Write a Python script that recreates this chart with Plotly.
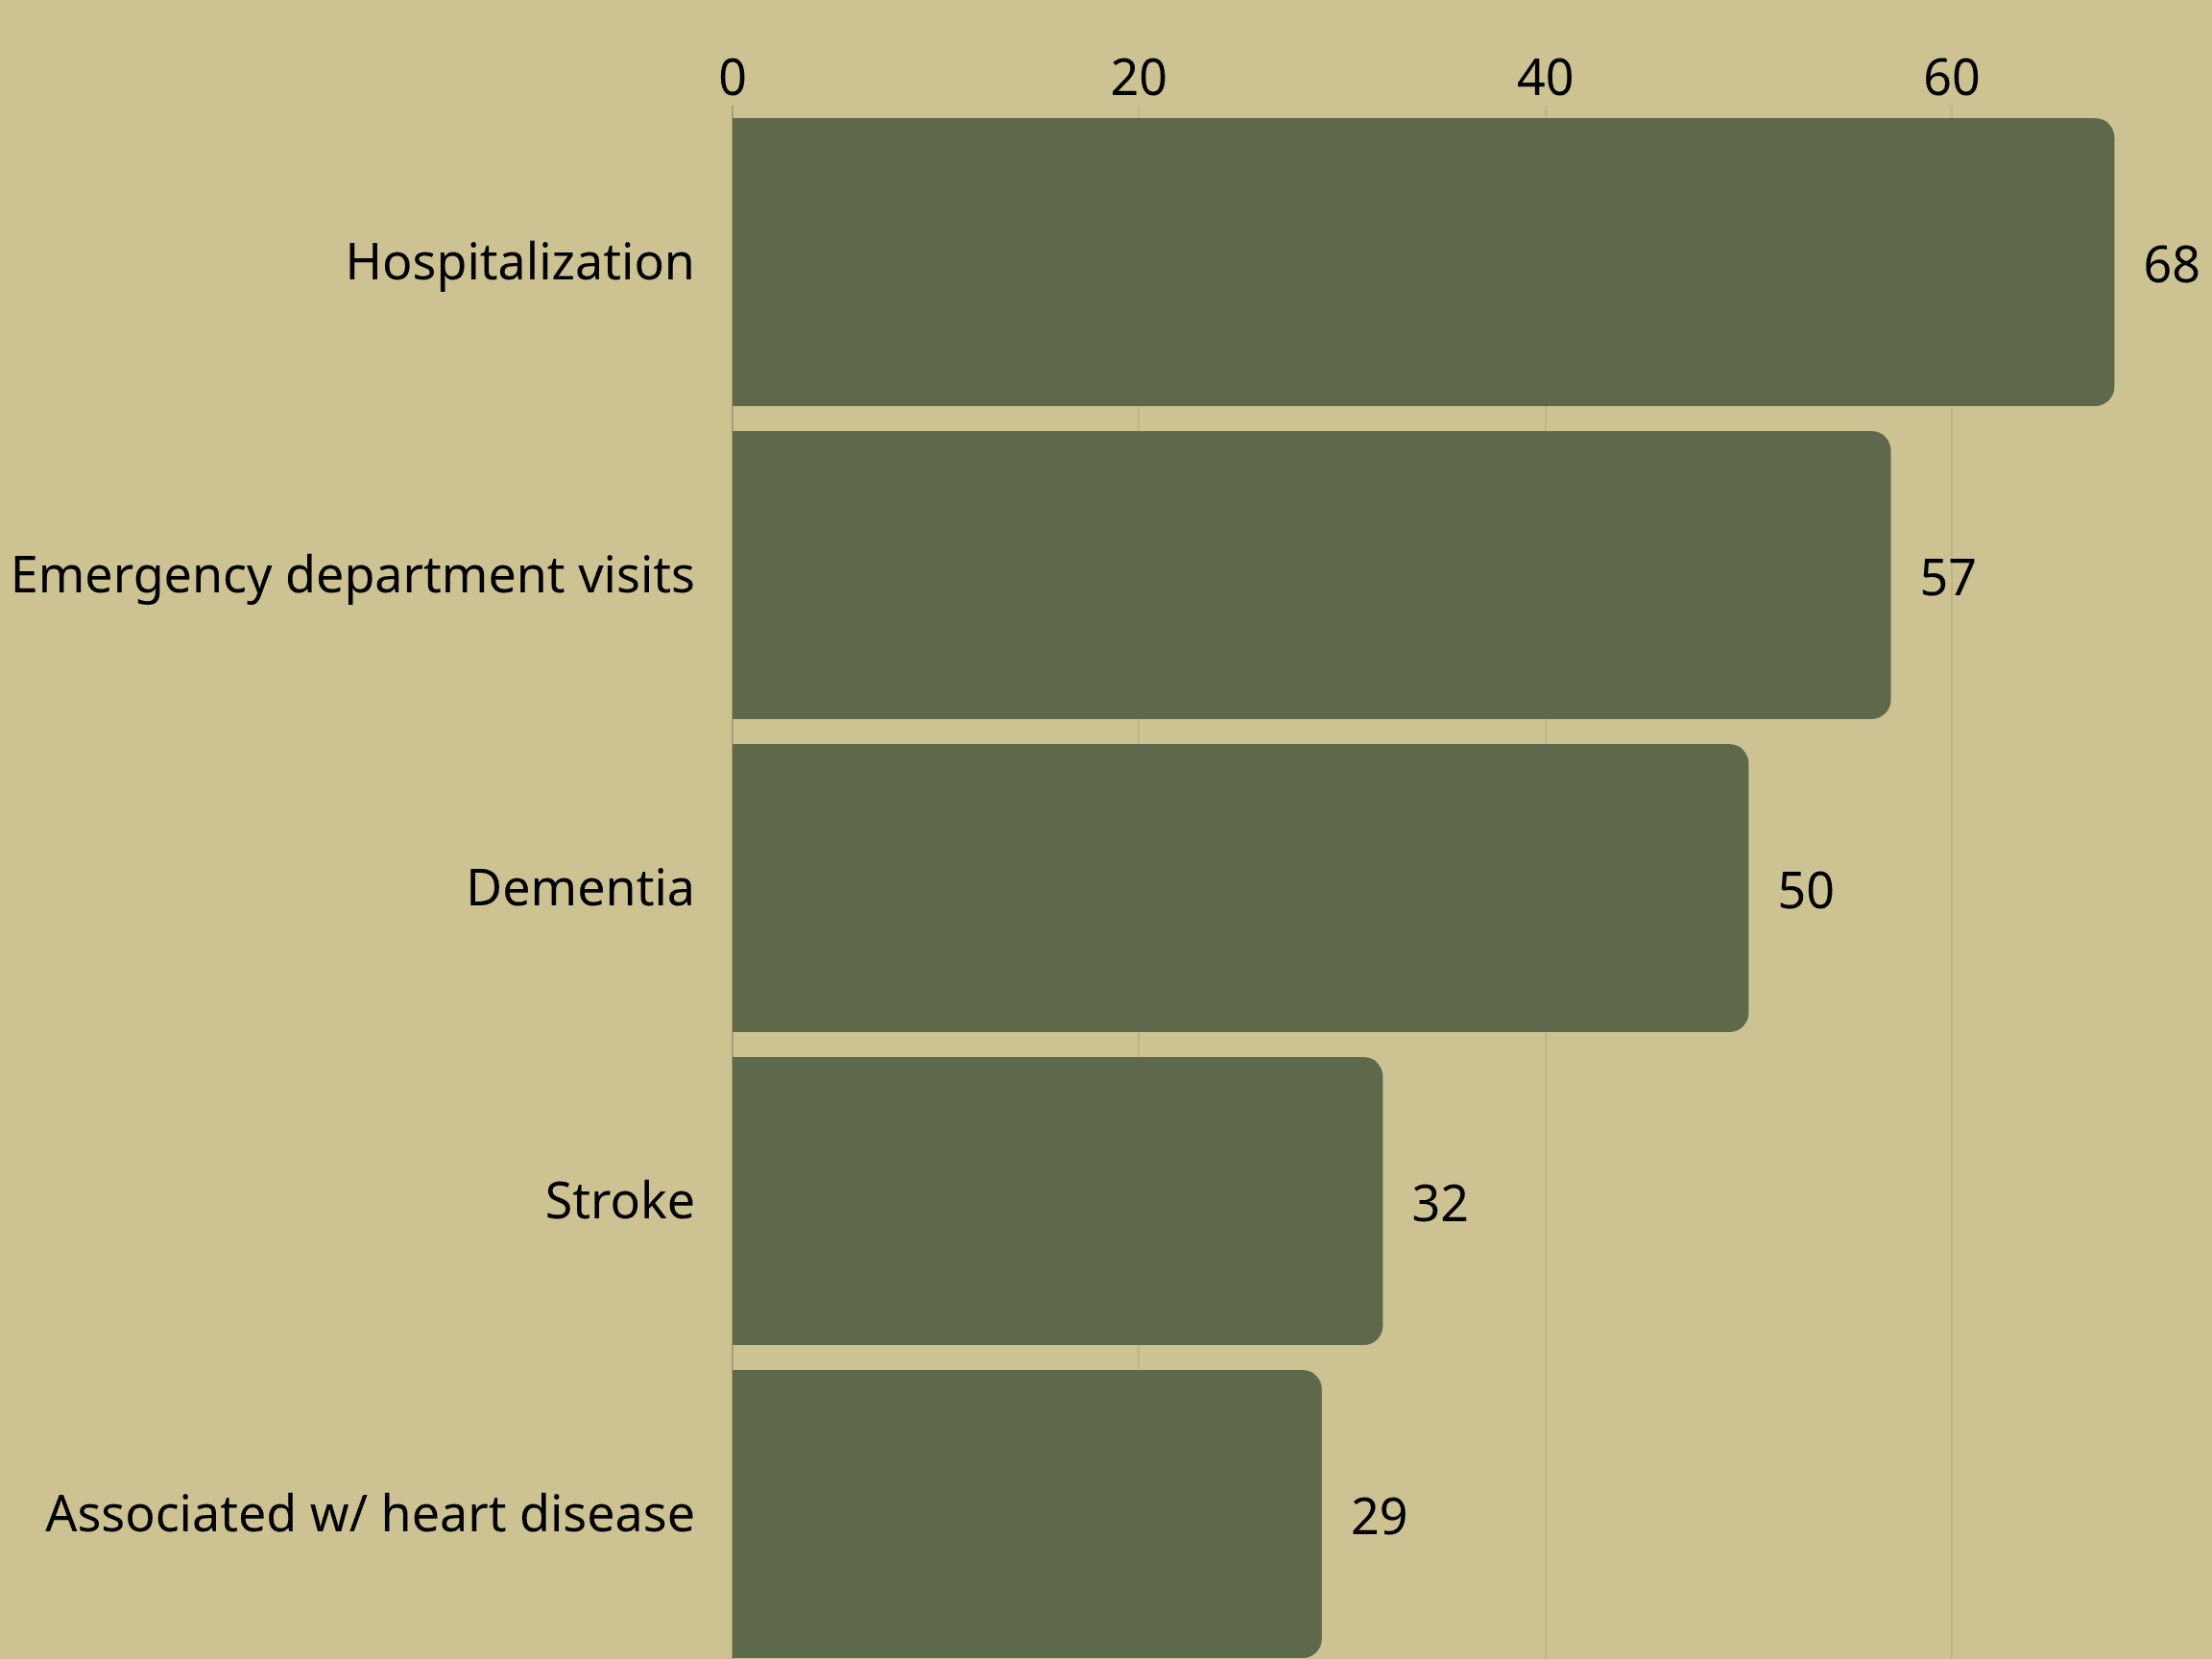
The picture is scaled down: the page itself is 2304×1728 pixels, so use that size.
import plotly.graph_objects as go

# dati
categorie = ['Hospitalization', 'Emergency department visits', 'Dementia',
             'Stroke', 'Associated w/ heart disease']
valori = [68, 57, 50, 32, 29]
tick_valori = [0, 20, 40, 60]

sfondo = '#CDC392'
barra = '#5E684B'

fig = go.Figure(go.Bar(
    x=valori,
    y=categorie,
    orientation='h',
    marker=dict(color=barra, line=dict(width=0)),
    texttemplate='\u00a0\u00a0%{x}',
    textposition='outside',
    textfont=dict(size=52, color='#000000'),
    cliponaxis=False,
))

fig.update_layout(
    width=2304,
    height=1728,
    paper_bgcolor=sfondo,
    plot_bgcolor=sfondo,
    font=dict(family='Noto Sans', size=52, color='#000000'),
    margin=dict(l=763, r=0, t=110, b=0),
    bargap=0.08,
    barcornerradius=20,
    showlegend=False,
)

fig.update_xaxes(
    side='top',
    range=[0, 72.8],
    tickvals=tick_valori,
    showgrid=True,
    gridcolor='#BDB486',
    gridwidth=1.5,
    zeroline=True,
    zerolinecolor='#A69E76',
    zerolinewidth=2,
    ticks='',
    tickfont=dict(size=52),
)
fig.update_yaxes(
    range=[4.463, -0.5],
    ticks='',
    ticklabelstandoff=38,
    showgrid=False,
)

# niente margine bianco della pagina, niente modebar
fig.write_html("out.html", config={'displayModeBar': False},
               post_script="document.body.style.margin='0';")
